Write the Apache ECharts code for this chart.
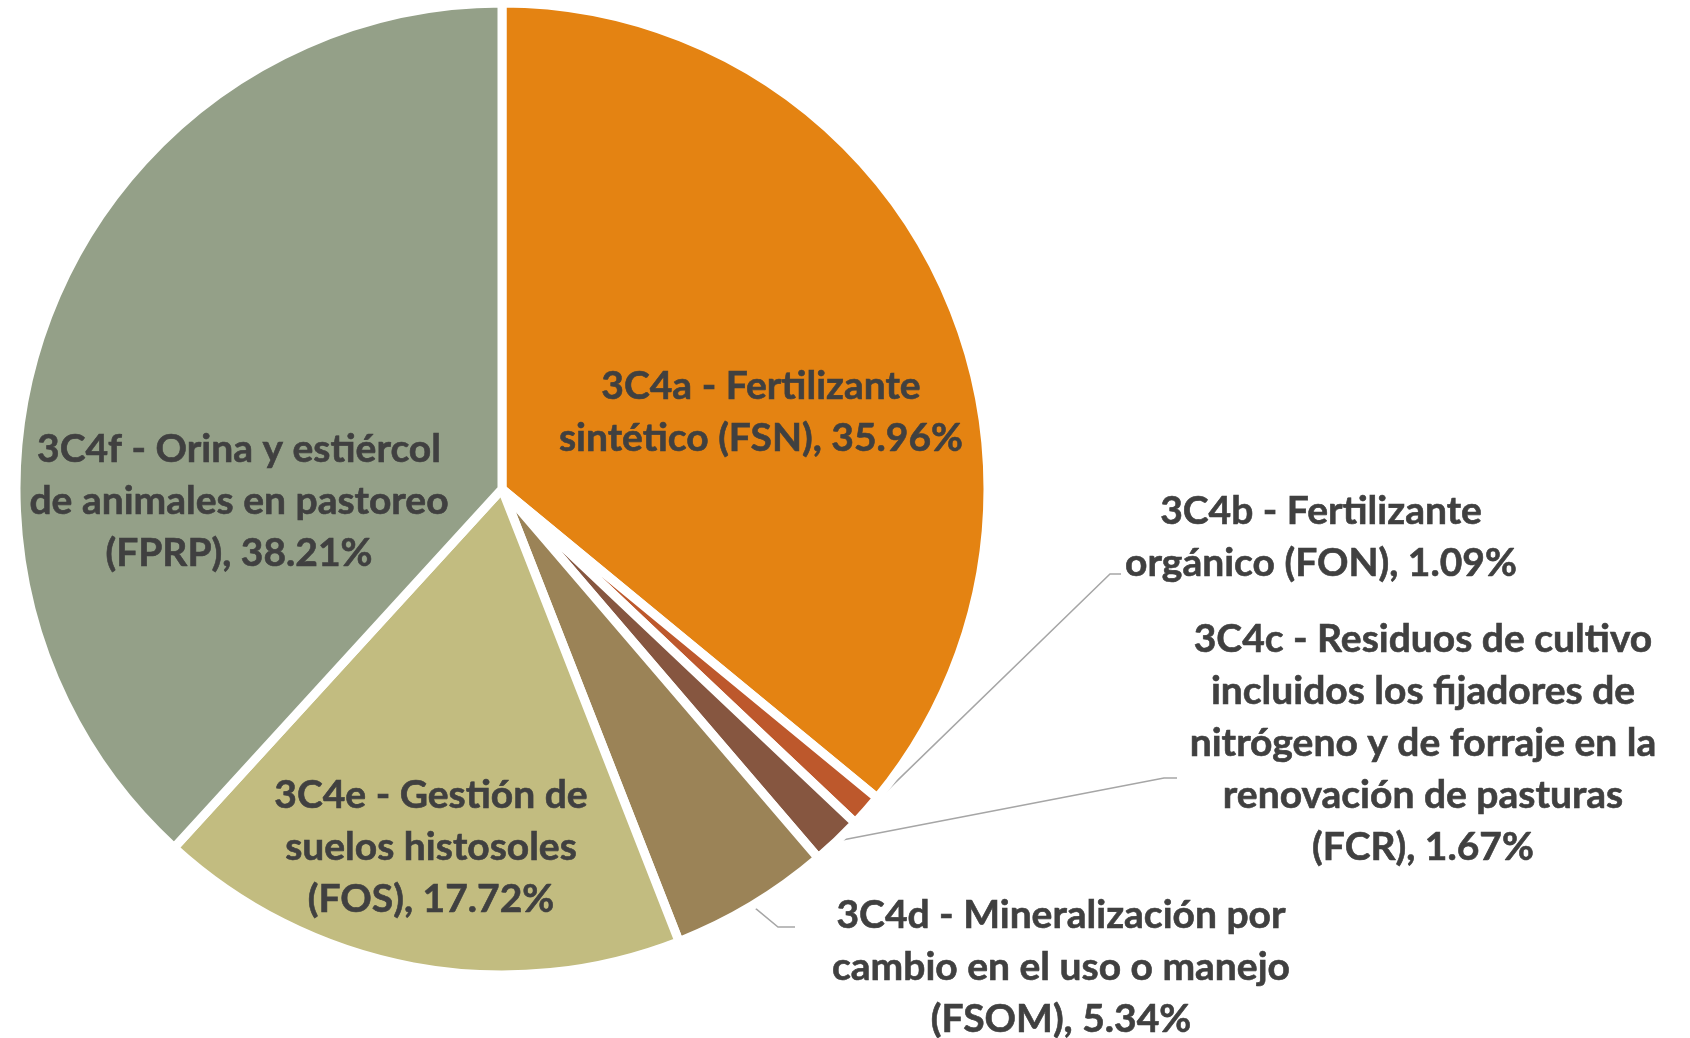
<!DOCTYPE html>
<html>
<head>
<meta charset="utf-8">
<title>Emisiones 3C4</title>
<script src="https://cdn.jsdelivr.net/npm/echarts@6/dist/echarts.min.js"></script>
<style>
    html, body { margin: 0; padding: 0; background: #fff; }
    #chart_pie { width: 1690px; height: 1038px; }
</style>
</head>
<body>
<div id="chart_pie"></div>
<script>
    // datos
    var categories = [
        '3C4a - Fertilizante\nsintético (FSN)',
        '3C4b - Fertilizante\norgánico (FON)',
        '3C4c - Residuos de cultivo\nincluidos los fijadores de\nnitrógeno y de forraje en la\nrenovación de pasturas\n(FCR)',
        '3C4d - Mineralización por\ncambio en el uso o manejo\n(FSOM)',
        '3C4e - Gestión de\nsuelos histosoles\n(FOS)',
        '3C4f - Orina y estiércol\nde animales en pastoreo\n(FPRP)'
    ];
    var values = [35.96, 1.09, 1.67, 5.34, 17.72, 38.21];

    // estilo
    var colors = ['#e48312', '#bd582c', '#865640', '#9b8357', '#c2bc80', '#94a088'];
    var insideLabel = [true, false, false, false, true, true];
    var labelPos = [[761, 412], [1321, 537], [1423, 743], [1061, 967], [431, 847], [239, 501]];
    var guideEnd = {
        1: [[1110, 574], [1121, 574]],
        2: [[1164, 778], [1177, 778]],
        3: [[778, 927], [795, 927]]
    };

    var pieData = categories.map(function (name, i) {
        return {
            name: name,
            value: values[i],
            itemStyle: { color: colors[i] },
            label: { position: insideLabel[i] ? 'inside' : 'outside' },
            labelLine: { show: !insideLabel[i] }
        };
    });

    var myChart = echarts.init(document.getElementById('chart_pie'));
    var option = {
        animation: false,
        series: [
            {
                type: 'pie',
                center: [502, 489],
                radius: 486,
                startAngle: 90,
                clockwise: true,
                avoidLabelOverlap: false,
                itemStyle: {
                    borderColor: '#ffffff',
                    borderWidth: 9
                },
                label: {
                    show: true,
                    formatter: '{b}, {c}%',
                    color: '#404040',
                    textBorderColor: '#404040',
                    textBorderWidth: 0.6,
                    fontFamily: 'Lato',
                    fontWeight: 'bold',
                    fontSize: 39,
                    lineHeight: 52,
                    align: 'center'
                },
                labelLine: {
                    length: 20,
                    length2: 10,
                    lineStyle: { color: '#a6a6a6', width: 1.5 }
                },
                labelLayout: function (params) {
                    var i = params.dataIndex;
                    var res = {
                        x: labelPos[i][0],
                        y: labelPos[i][1],
                        align: 'center',
                        verticalAlign: 'middle'
                    };
                    if (guideEnd[i] && params.labelLinePoints) {
                        res.labelLinePoints = [params.labelLinePoints[0], guideEnd[i][0], guideEnd[i][1]];
                    }
                    return res;
                },
                emphasis: { disabled: true },
                data: pieData
            }
        ]
    };
    myChart.setOption(option);
</script>
</body>
</html>
